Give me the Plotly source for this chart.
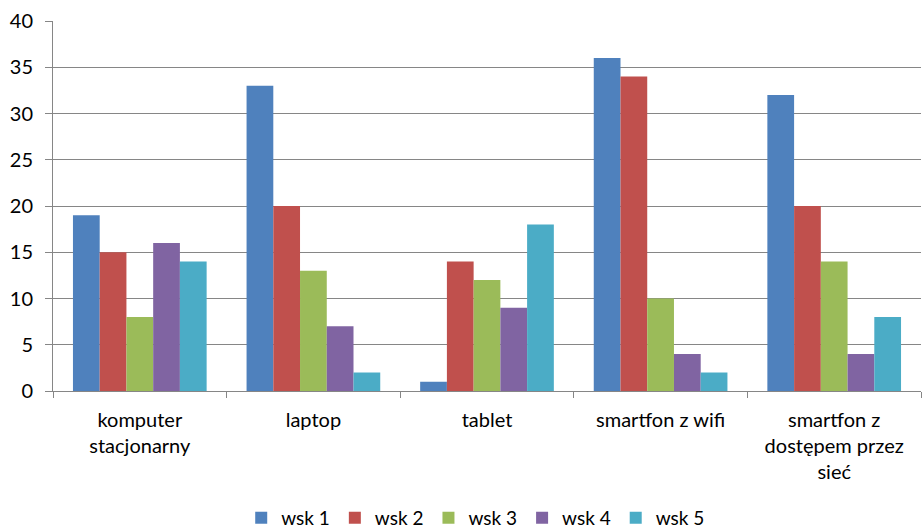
import plotly.graph_objects as go

categories = ["komputer<br>stacjonarny", "laptop", "tablet", "smartfon z wifi",
              "smartfon z<br>dostępem przez<br>sieć"]
series_names = ["wsk 1", "wsk 2", "wsk 3", "wsk 4", "wsk 5"]
wsk1 = [19, 33, 1, 36, 32]
wsk2 = [15, 20, 14, 34, 20]
wsk3 = [8, 13, 12, 10, 14]
wsk4 = [16, 7, 9, 4, 4]
wsk5 = [14, 2, 18, 2, 8]
values = [wsk1, wsk2, wsk3, wsk4, wsk5]
colors = ["#4F81BD", "#C0504D", "#9BBB59", "#8064A2", "#4BACC6"]
y_ticks = [0, 5, 10, 15, 20, 25, 30, 35, 40]

FONT = "Lato"
fig = go.Figure()
for name, vals, col in zip(series_names, values, colors):
    fig.add_trace(go.Bar(x=categories, y=vals, name=name, marker_color=col,
                         marker_line_width=0))

fig.update_layout(
    width=922, height=529,
    margin=dict(l=53, r=1, t=21, b=138),
    paper_bgcolor="white", plot_bgcolor="white",
    barmode="group", bargap=0.23, bargroupgap=0,
    font=dict(family=FONT, size=19, color="#000000"),
    showlegend=True,
    legend=dict(orientation="h", xref="paper", x=0.487, xanchor="center",
                yref="container", y=0.021, yanchor="middle",
                font=dict(size=19), itemwidth=30, traceorder="normal"),
)
fig.update_yaxes(range=[0, 40], tickvals=y_ticks, showgrid=True, gridcolor="#868686",
                 gridwidth=1, showline=True, linecolor="#868686", linewidth=1,
                 ticks="outside", ticklen=7, tickcolor="#868686", zeroline=False,
                 tickfont=dict(size=20), ticklabelstandoff=8)
fig.update_xaxes(showline=True, linecolor="#868686", linewidth=1, ticks="outside",
                 tickson="boundaries", ticklen=6, tickcolor="#868686",
                 tickfont=dict(size=20), ticklabelstandoff=11)

fig.write_html("out.html", post_script="document.body.style.margin='0';",
               config={"displayModeBar": False})
